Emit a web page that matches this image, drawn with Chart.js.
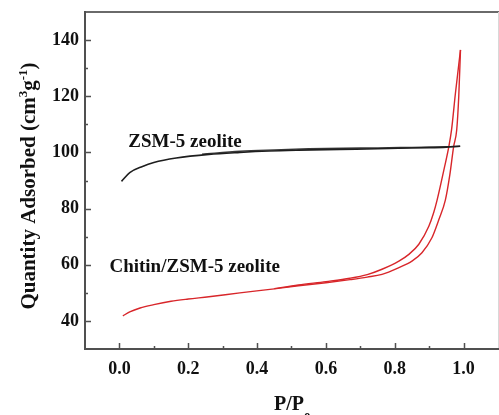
<!DOCTYPE html>
<html>
<head>
<meta charset="utf-8">
<script src="https://cdn.jsdelivr.net/npm/chart.js@4/dist/chart.umd.min.js"></script>
<style>
  html, body { margin: 0; padding: 0; background: #fff; overflow: hidden; }
  canvas { display: block; }
</style>
</head>
<body>
<canvas id="iso" width="499" height="415"></canvas>
<script>
// N2 adsorption–desorption isotherms (relative pressure vs. quantity adsorbed)
const zsmAdsX = [0.006, 0.03, 0.067, 0.1, 0.165, 0.26, 0.35, 0.435, 0.52, 0.64, 0.75, 0.81, 0.9, 0.95, 0.99];
const zsmAdsY = [89.7, 92.8, 95.0, 96.4, 98.0, 99.3, 100.0, 100.5, 100.8, 101.1, 101.3, 101.5, 101.7, 101.9, 102.2];
const zsmDesX = [0.24, 0.35, 0.45, 0.55, 0.65, 0.75, 0.85, 0.95, 0.99];
const zsmDesY = [99.4, 100.4, 100.9, 101.3, 101.5, 101.6, 101.8, 102.0, 102.2];

const chitinAdsX = [0.01, 0.03, 0.06, 0.1, 0.15, 0.2, 0.26, 0.35, 0.45, 0.52, 0.6, 0.67, 0.72, 0.763, 0.812, 0.85, 0.879, 0.908, 0.928, 0.947, 0.96, 0.971, 0.98, 0.986, 0.991];
const chitinAdsY = [41.8, 43.2, 44.6, 45.8, 47.0, 47.8, 48.6, 50.0, 51.4, 52.5, 53.6, 54.7, 55.6, 56.6, 59.0, 61.3, 64.3, 69.6, 76.0, 83.0, 92.0, 102.0, 108.0, 120.0, 136.5];
const chitinDesX = [0.45, 0.52, 0.6, 0.67, 0.72, 0.763, 0.812, 0.841, 0.87, 0.899, 0.913, 0.923, 0.945, 0.957, 0.965, 0.976, 0.991];
const chitinDesY = [51.5, 52.8, 54.0, 55.2, 56.5, 58.4, 61.3, 63.7, 67.3, 73.7, 78.5, 83.0, 95.0, 102.0, 108.0, 120.7, 136.5];

const xTickValues = [0.0, 0.2, 0.4, 0.6, 0.8, 1.0];
const xMinorValues = [0.1, 0.3, 0.5, 0.7, 0.9];
const yTickValues = [40, 60, 80, 100, 120, 140];
const yMinorValues = [50, 70, 90, 110, 130];

const seriesNames = ['ZSM-5 zeolite', 'Chitin/ZSM-5 zeolite'];

const SERIF = '"Liberation Serif", "Times New Roman", serif';
const BLACK = '#1e1e1e';
const RED = '#d8262a';
const AXIS = '#505050';

function pts(xs, ys) { return xs.map((x, i) => ({ x: x, y: ys[i] })); }

function lineSet(label, data, color, width) {
  return {
    label: label,
    data: data,
    showLine: true,
    borderColor: color,
    backgroundColor: color,
    borderWidth: width,
    pointRadius: 0,
    pointHoverRadius: 0,
    cubicInterpolationMode: 'monotone',
    fill: false
  };
}

// frame, inward tick marks, curve labels and axis titles
const decorations = {
  id: 'decorations',
  afterDatasetsDraw(chart) {
    const ctx = chart.ctx;
    const xs = chart.scales.x, ys = chart.scales.y;
    ctx.save();
    ctx.fillStyle = '#111';
    ctx.font = 'bold 19px ' + SERIF;
    ctx.textAlign = 'left';
    ctx.textBaseline = 'alphabetic';
    ctx.fillText(seriesNames[0], xs.getPixelForValue(0.026), ys.getPixelForValue(102.1));
    ctx.fillText(seriesNames[1], xs.getPixelForValue(-0.029), ys.getPixelForValue(57.3));
    ctx.restore();
  },
  afterDraw(chart) {
    const ctx = chart.ctx;
    const a = chart.chartArea;
    const xs = chart.scales.x, ys = chart.scales.y;
    ctx.save();
    // top and right border
    ctx.lineWidth = 2;
    ctx.strokeStyle = '#6a6a6a';
    ctx.beginPath();
    ctx.moveTo(a.left, a.top); ctx.lineTo(a.right + 2, a.top);
    ctx.stroke();
    ctx.lineWidth = 1;
    ctx.strokeStyle = '#d8d8d8';
    ctx.beginPath();
    ctx.moveTo(a.right + 0.5, a.top); ctx.lineTo(a.right + 0.5, a.bottom);
    ctx.stroke();
    // left and bottom axes
    ctx.lineWidth = 2;
    ctx.strokeStyle = AXIS;
    ctx.beginPath();
    ctx.moveTo(a.left, a.top - 1); ctx.lineTo(a.left, a.bottom);
    ctx.lineTo(a.right + 2, a.bottom);
    ctx.stroke();
    // inward ticks
    ctx.lineWidth = 1.5;
    ctx.beginPath();
    xTickValues.forEach(v => { const p = Math.round(xs.getPixelForValue(v)) + 0.5; ctx.moveTo(p, a.bottom); ctx.lineTo(p, a.bottom - 6); });
    xMinorValues.forEach(v => { const p = Math.round(xs.getPixelForValue(v)) + 0.5; ctx.moveTo(p, a.bottom); ctx.lineTo(p, a.bottom - 3); });
    yTickValues.forEach(v => { const p = Math.round(ys.getPixelForValue(v)) + 0.5; ctx.moveTo(a.left, p); ctx.lineTo(a.left + 6, p); });
    yMinorValues.forEach(v => { const p = Math.round(ys.getPixelForValue(v)) + 0.5; ctx.moveTo(a.left, p); ctx.lineTo(a.left + 3, p); });
    ctx.stroke();

    ctx.fillStyle = '#111';
    ctx.textBaseline = 'alphabetic';
    ctx.textAlign = 'left';
    // y title with superscripts, rotated
    const big = 'bold 21px ' + SERIF, small = 'bold 13px ' + SERIF;
    const parts = [
      { t: 'Quantity Adsorbed (cm', f: big, dy: 0 },
      { t: '3', f: small, dy: -8 },
      { t: 'g', f: big, dy: 0 },
      { t: '-1', f: small, dy: -8 },
      { t: ')', f: big, dy: 0 }
    ];
    let total = 0;
    parts.forEach(p => { ctx.font = p.f; p.w = ctx.measureText(p.t).width; total += p.w; });
    ctx.save();
    ctx.translate(35, 186);
    ctx.rotate(-Math.PI / 2);
    let cx = -total / 2;
    parts.forEach(p => { ctx.font = p.f; ctx.fillText(p.t, cx, p.dy); cx += p.w; });
    ctx.restore();
    // x title P/P0
    ctx.font = 'bold 20px ' + SERIF;
    ctx.fillText('P/P', 274, 410);
    const w = ctx.measureText('P/P').width;
    ctx.font = 'bold 13px ' + SERIF;
    ctx.fillText('0', 274 + w, 421);
    ctx.restore();
  }
};

new Chart(document.getElementById('iso'), {
  type: 'scatter',
  data: {
    datasets: [
      lineSet(seriesNames[0] + ' (ads)', pts(zsmAdsX, zsmAdsY), BLACK, 1.6),
      lineSet(seriesNames[0] + ' (des)', pts(zsmDesX, zsmDesY), '#3a3a3a', 1.4),
      lineSet(seriesNames[1] + ' (ads)', pts(chitinAdsX, chitinAdsY), RED, 1.4),
      lineSet(seriesNames[1] + ' (des)', pts(chitinDesX, chitinDesY), RED, 1.4)
    ]
  },
  options: {
    responsive: false,
    devicePixelRatio: 1,
    animation: false,
    layout: { padding: { top: 12, right: 1, left: 0, bottom: 0 } },
    plugins: { legend: { display: false }, tooltip: { enabled: false } },
    scales: {
      x: {
        type: 'linear',
        min: -0.1,
        max: 1.1,
        grid: { display: false, drawTicks: false },
        border: { display: false },
        afterBuildTicks: s => { s.ticks = xTickValues.map(v => ({ value: v })); },
        afterFit: s => { s.height = 66; s.paddingLeft = 0; s.paddingRight = 0; },
        ticks: {
          padding: 10,
          color: '#111',
          font: { family: SERIF, size: 18, weight: 'bold' },
          callback: v => Number(v).toFixed(1)
        }
      },
      y: {
        type: 'linear',
        min: 30,
        max: 150,
        grid: { display: false, drawTicks: false },
        border: { display: false },
        afterBuildTicks: s => { s.ticks = yTickValues.map(v => ({ value: v })); },
        afterFit: s => { s.width = 85; s.paddingTop = 0; s.paddingBottom = 0; },
        ticks: {
          padding: 6,
          color: '#111',
          font: { family: SERIF, size: 18, weight: 'bold' }
        }
      }
    }
  },
  plugins: [decorations]
});
</script>
</body>
</html>
